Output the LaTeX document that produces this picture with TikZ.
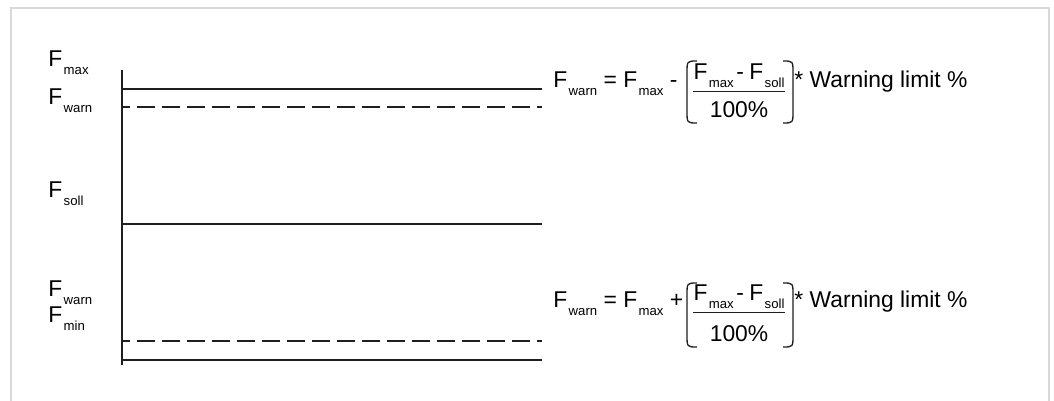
\documentclass[tikz,border=0pt]{standalone}
\usepackage{fontspec}
\setmainfont{Liberation Sans}
\newcommand{\Fsub}[1]{F\kern0.8pt\raisebox{-4.5pt}{\fontsize{7.5}{8}\selectfont #1}}
\begin{document}
\begin{tikzpicture}[
        x=0.02cm, y=-0.02cm,
        every node/.style={font=\fontsize{13}{15}\selectfont, inner sep=0pt},
        frame/.style={draw=black!15, line width=0.9pt},
        axis/.style={draw=black!88, line width=0.75pt},
        level/.style={draw=black!88, line width=0.75pt},
        warnlevel/.style={level, dash pattern=on 0.36cm off 0.14cm, dash phase=0.2cm},
        label/.style={anchor=base west},
        bar/.style={draw=black!88, line width=0.6pt},
        paren/.style={draw=black!88, line width=0.75pt}
    ]
        \useasboundingbox (0,0) rectangle (1054,401);
        % Light frame, open at the bottom
        \draw[frame] (11,401) |- (1049,8) -- (1049,401);

        % Axis and limit lines
        \coordinate (axtop) at (122,70);
        \coordinate (axbot) at (122,365);
        \draw[axis] (axtop) -- (axbot);
        \draw[level] (122,89) -- (542,89);
        \draw[warnlevel] (122,107) -- (542,107);
        \draw[level] (122,224) -- (542,224);
        \draw[warnlevel] (122,341) -- (542,341);
        \draw[level] (122,360) -- (542,360);

        % Labels on the left
        \node[label] (fmaxlab) at (48,67) {\Fsub{max}};
        \node[label] (fwarnlab) at (48,105) {\Fsub{warn}};
        \node[label] (fsolllab) at (48,198) {\Fsub{soll}};
        \node[label] (fwarnlowlab) at (48,297) {\Fsub{warn}};
        \node[label] (fminlab) at (48,323) {\Fsub{min}};

        % Upper warning limit
        \node[label] (equp) at (553,88) {\Fsub{warn} = \Fsub{max} -};
        \node[anchor=base, inner ysep=2pt] (numup) at (739,80) {\Fsub{max}\kern1.5pt-\kern3pt\Fsub{soll}};
        \node[anchor=base] (denup) at (739,118) {100\%};
        \draw[bar] (numup.south west) -- (numup.south east);
        \draw[paren] (697,61) .. controls (687,61) .. (687,73) -- (687,111) .. controls (687,123) .. (697,123);
        \draw[paren] (783,61) .. controls (793,61) .. (793,73) -- (793,111) .. controls (793,123) .. (783,123);
        \node[label] (limup) at (794,88) {* Warning limit \%};

        % Lower warning limit
        \node[label] (eqlow) at (553,308) {\Fsub{warn} = \Fsub{max} +};
        \node[anchor=base, inner ysep=2pt] (numlow) at (739,301) {\Fsub{max}\kern1.5pt-\kern3pt\Fsub{soll}};
        \node[anchor=base] (denlow) at (739,342) {100\%};
        \draw[bar] (numlow.south west) -- (numlow.south east);
        \draw[paren] (697,283) .. controls (687,283) .. (687,295) -- (687,335) .. controls (687,347) .. (697,347);
        \draw[paren] (783,283) .. controls (793,283) .. (793,295) -- (793,335) .. controls (793,347) .. (783,347);
        \node[label] (limlow) at (794,308) {* Warning limit \%};
    \end{tikzpicture}
\end{document}
